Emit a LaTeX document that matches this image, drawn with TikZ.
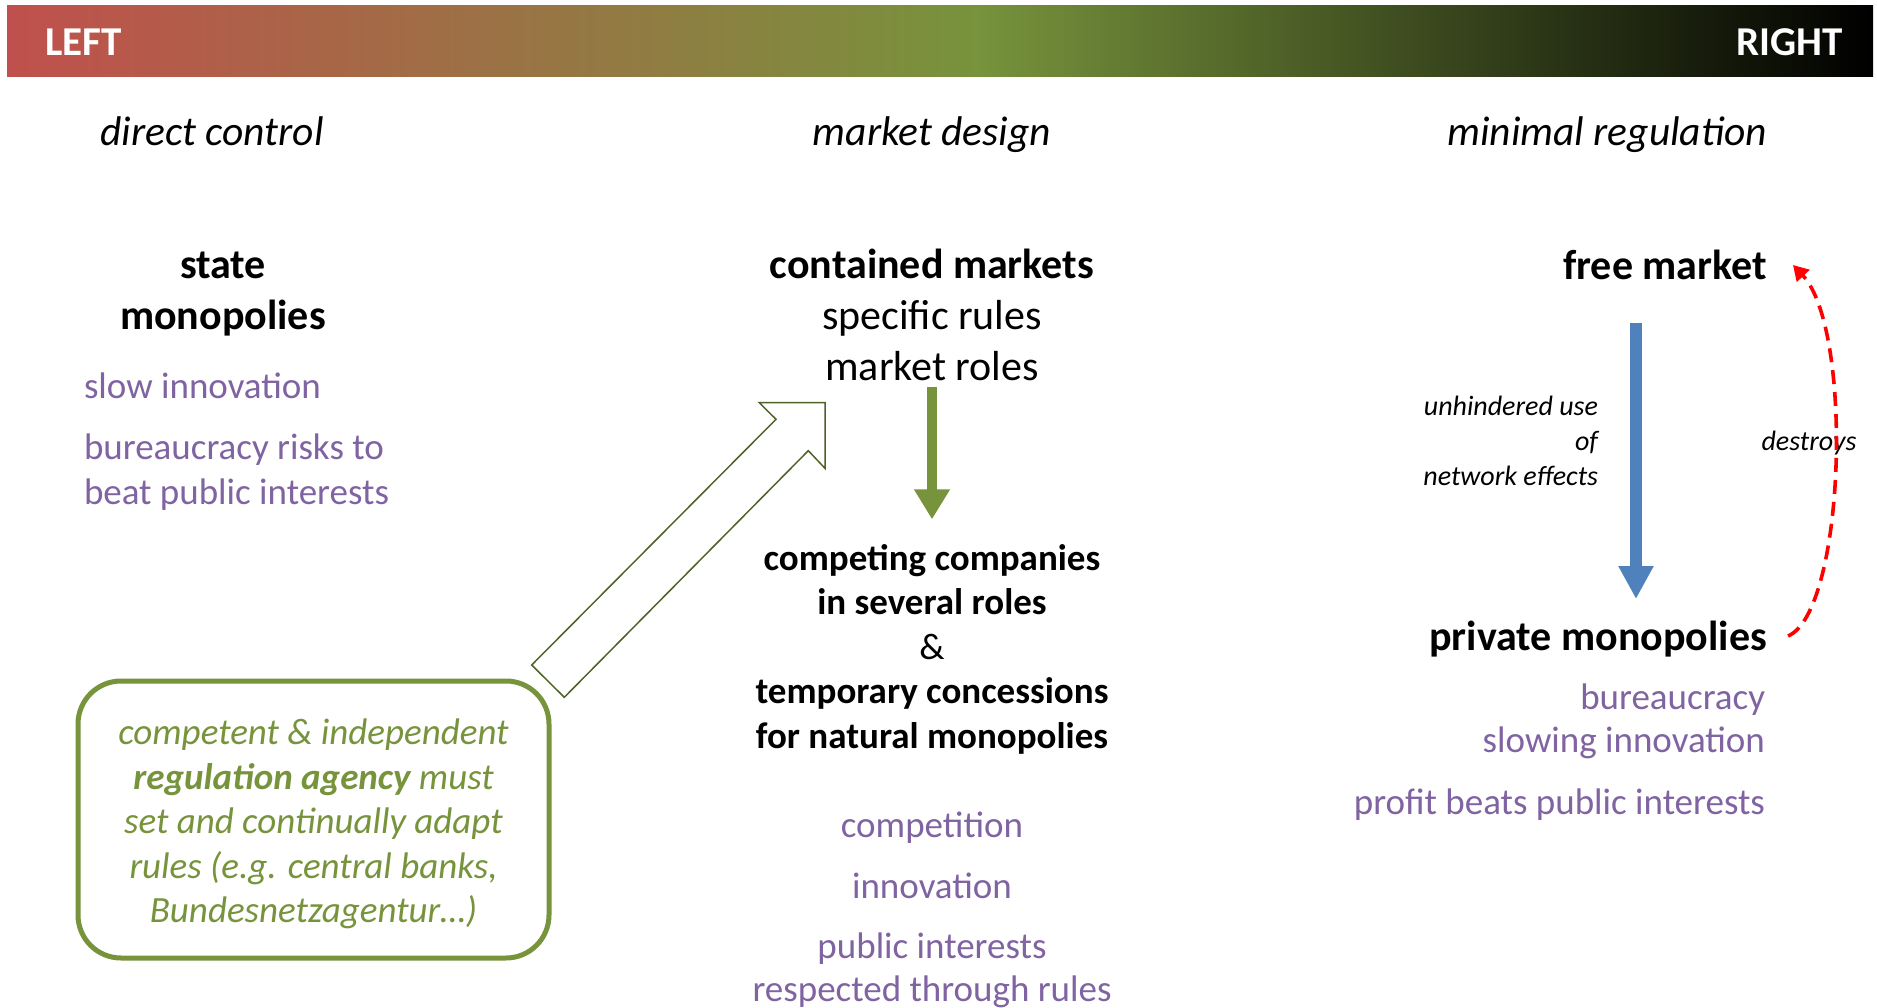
\documentclass[tikz,border=0pt]{standalone}
\usepackage{fontspec}
\setmainfont{Carlito}
\usetikzlibrary{arrows.meta,calc}
\definecolor{ored}{HTML}{C0504D}
\definecolor{ogreen}{HTML}{77933C}
\definecolor{opurple}{HTML}{8064A2}
\definecolor{oblue}{HTML}{4F81BD}
\definecolor{odkgreen}{HTML}{4F6228}
\definecolor{dashred}{HTML}{FF0000}
\pgfdeclarehorizontalshading{lrbar}{100bp}{color(0bp)=(ored); color(25bp)=(ored); color(51bp)=(ogreen); color(75bp)=(black); color(100bp)=(black)}
\newcommand\fsz[2]{\fontsize{#1}{#2}\selectfont}
\begin{document}
\begin{tikzpicture}[x=1pt,y=-1pt,
  every node/.style={inner sep=0pt, outer sep=0pt, execute at begin node=\strut, execute at end node=\strut},
  barlbl/.style={font=\fsz{41}{49}\bfseries, text=white},
  hdr/.style={font=\fsz{41.5}{49}\itshape},
  big/.style={font=\fsz{42}{51}, align=center},
  bigb/.style={font=\fsz{42}{51}\bfseries, align=center},
  purp/.style={font=\fsz{37}{45}, text=opurple},
  midb/.style={font=\fsz{37}{44.5}\bfseries, align=center},
  lbl/.style={font=\fsz{28}{35}\itshape},
  agency/.style={draw=ogreen, line width=5pt, rounded corners=43pt, fill=white,
     minimum width=471pt, minimum height=277pt},
  agtext/.style={align=center, font=\fsz{37}{44.5}\itshape, text=ogreen},
  garrow/.style={draw=ogreen, line width=10pt, -{Triangle[width=34pt,length=30pt]}},
  barrow/.style={draw=oblue, line width=11.5pt, -{Triangle[width=33pt,length=33pt]}},
  rdash/.style={draw=dashred, line width=3.6pt, dash pattern=on 14pt off 8pt, -{Triangle[width=17pt,length=15pt]}},
  hollow/.style={draw=odkgreen, line width=1.5pt, fill=white}
]
\useasboundingbox (0,0) rectangle (1877,1008);
\fill[white] (0,0) rectangle (1877,1008);
% top gradient bar
\shade[shading=lrbar] (7,6) rectangle (1873,77);
\node[barlbl, anchor=west] (lft) at (45,46) {LEFT};
\node[barlbl, anchor=east] (rgt) at (1843,46) {RIGHT};
% headers
\node[hdr] (dc) at (212,136) {direct control};
\node[hdr] (md) at (932,136) {market design};
\node[hdr, anchor=east] (mr) at (1767,136) {minimal regulation};
% left column
\node[bigb] (sm) at (223,298) {state\\monopolies};
\node[purp, anchor=west] (si) at (84,389) {slow innovation};
\node[purp, anchor=west, align=left] (br) at (84,476) {bureaucracy risks to\\beat public interests};
% middle column
\node[big] (cm) at (932,322) {\textbf{contained markets}\\specific rules\\market roles};
\node[midb] (cc) at (932,653) {competing companies\\in several roles\\\mdseries\&\\temporary concessions\\for natural monopolies};
\node[purp] (comp) at (932,828) {competition};
\node[purp] (inn) at (932,889) {innovation};
\node[purp, align=center, font=\fsz{37}{43}] (pub) at (932,974) {public interests\\respected through rules};
\draw[garrow] ([yshift=8pt]cm.south) -- ([yshift=25pt]cc.north);
% right column
\node[bigb, anchor=east] (fm) at (1767,269) {free market};
\node[bigb, anchor=east] (pm) at (1767,640) {private monopolies};
\node[purp, anchor=east, align=right, font=\fsz{37}{43}] (bu) at (1765,725) {bureaucracy\\slowing innovation};
\node[purp, anchor=east] (pb) at (1765,805) {profit beats public interests};
\node[lbl, anchor=east, align=right] (uu) at (1598,446) {unhindered use\\of\\network effects};
\node[lbl] (ds) at (1809,443) {destroys};
\coordinate (ba1) at (1636,323);
\coordinate (ba2) at (1636,599);
\draw[barrow] (ba1) -- (ba2);
\draw[rdash] ($(pm.east)+(21,-4)$) .. controls (1845,612) and (1854,330) .. ($(fm.east)+(26,-4)$);
% hollow block arrow
\draw[hollow] (531.7,665) -- (776,419.3) -- (759.3,402.7) -- (825,402.7) -- (825,468.3) -- (808.3,450.7) -- (564.3,697.3) -- cycle;
% regulation agency box
\node[agency] (ag) at (313.5,819.5) {};
\node[agtext] (agt) at ([yshift=-8pt]ag.center) {competent \& independent\\\textbf{regulation agency} must\\set and continually adapt\\rules (e.g. central banks,\\Bundesnetzagentur…)};
\end{tikzpicture}
\end{document}
